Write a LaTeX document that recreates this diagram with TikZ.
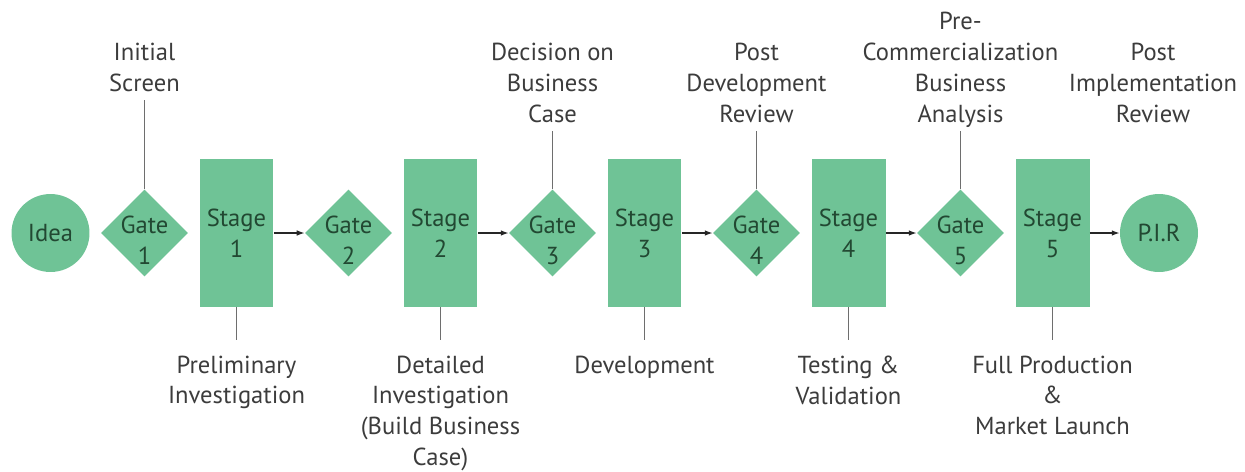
\documentclass[tikz,border=0pt]{standalone}
\usepackage{fontspec}
\setmainfont{PT Sans}
\usetikzlibrary{shapes.geometric,arrows.meta,positioning}

\definecolor{stagegreen}{RGB}{111,195,150}
\definecolor{stageink}{RGB}{34,72,50}
\definecolor{noteink}{RGB}{60,60,60}
\definecolor{stemgrey}{RGB}{110,110,110}

\tikzset{
	greenbox/.style={fill=stagegreen, text=stageink, align=center, inner sep=0pt},
	stage/.style={greenbox, rectangle, minimum width=1.48cm, minimum height=2.96cm},
	gate/.style={greenbox, diamond, minimum width=1.74cm, minimum height=1.74cm},
	gatetext/.style={text=stageink, align=center, inner sep=0pt, yshift=-0.14cm},
	endpoint/.style={greenbox, circle, minimum size=1.56cm},
	note/.style={text=noteink, align=center, inner sep=2pt,
		execute at end node=\vphantom{y}},
	stem/.style={draw=stemgrey, line width=1.1pt},
	flow/.style={draw=black!85, line width=0.7pt, -{Latex[length=4.5pt,width=3.2pt]}},
}

\begin{document}
\begin{tikzpicture}[x=0.02cm, y=-0.02cm, font=\fontsize{14}{17.6}\selectfont]
\def \n {5}
\def \pitch {204}
\def \midy {233}
\useasboundingbox (0,0) rectangle (1245,471);

\node[endpoint] (idea) at (50.5,\midy) {Idea};
\node[endpoint] (pir) at (1159,\midy) {P.I.R};

% gates and stages alternate along the middle line
\foreach \s in {1,...,\n}
{
	\node[gate, label={[gatetext]center:{Gate\\\s}}] (gate\s) at ({144.5+\pitch*(\s-1)},\midy) {};
	\node[stage] (stage\s) at ({236.5+\pitch*(\s-1)},\midy) {Stage\\\s};
}

% each stage feeds the next gate
\foreach \s [count=\ng from 2] in {1,...,4}
	\draw[flow] (stage\s) -- (gate\ng);
\draw[flow] (stage5) -- (pir);

% reviews above the gates
\node[note, above=1.78cm of gate1] (screen) {Initial\\Screen};
\node[note, above=1.16cm of gate3] (decision) {Decision on\\Business\\Case};
\node[note, above=1.16cm of gate4] (postdev) {Post\\Development\\Review};
\node[note, above=1.16cm of gate5] (precomm) {Pre-\\Commercialization\\Business\\Analysis};
\node[note, above=1.24cm of pir, xshift=-0.12cm] (postimp) {Post\\Implementation\\Review};
\foreach \gname/\tname in {gate1/screen, gate3/decision, gate4/postdev, gate5/precomm}
	\draw[stem] (\gname) -- (\tname);

% work done in each stage, below
\foreach \s/\txt in {1/{Preliminary\\Investigation},
	2/{Detailed\\Investigation\\(Build Business\\Case)},
	3/Development,
	4/{Testing \&\\Validation},
	5/{Full Production\\\&\\Market Launch}}
{
	\node[note, inner ysep=8.5pt, below=0.66cm of stage\s] (task\s) {\txt};
	\draw[stem] (stage\s) -- (task\s);
}
\end{tikzpicture}
\end{document}
